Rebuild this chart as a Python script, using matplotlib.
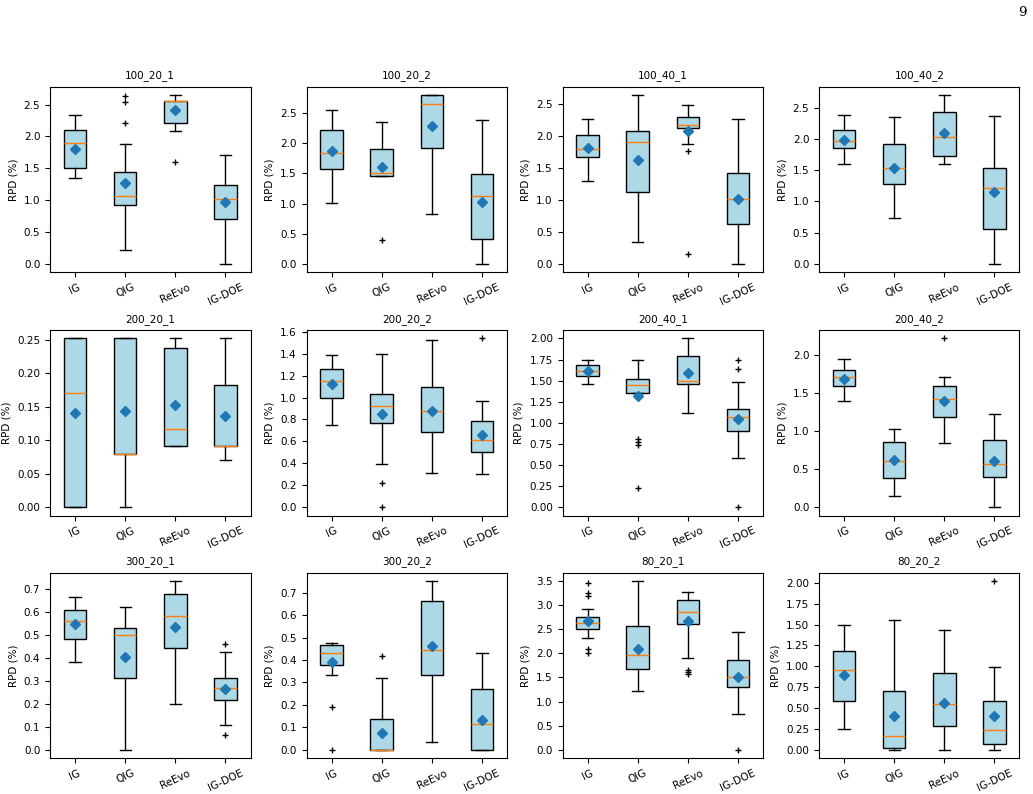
import matplotlib
matplotlib.use("Agg")
import matplotlib.pyplot as plt
from matplotlib.ticker import MaxNLocator

# ---------------- data ----------------
TITLES = ["100_20_1", "100_20_2", "100_40_1", "100_40_2",
          "200_20_1", "200_20_2", "200_40_1", "200_40_2",
          "300_20_1", "300_20_2", "80_20_1", "80_20_2"]
METHODS = ["IG", "QIG", "ReEvo", "IG-DOE"]

WHISLO = [
    [1.35, 0.22, 2.08, 0.00],
    [1.01, 1.45, 0.83, 0.00],
    [1.29, 0.34, 1.87, 0.00],
    [1.60, 0.74, 1.60, 0.00],
    [0.000, 0.000, 0.091, 0.070],
    [0.75, 0.39, 0.31, 0.30],
    [1.46, 1.35, 1.11, 0.58],
    [1.40, 0.14, 0.85, 0.00],
    [0.383, 0.000, 0.199, 0.107],
    [0.333, 0.000, 0.034, 0.000],
    [2.31, 1.23, 1.91, 0.74],
    [0.25, 0.00, 0.00, 0.00],
]
Q1 = [
    [1.50, 0.93, 2.21, 0.71],
    [1.58, 1.45, 1.92, 0.41],
    [1.67, 1.13, 2.12, 0.62],
    [1.85, 1.28, 1.73, 0.56],
    [0.000, 0.080, 0.091, 0.091],
    [1.00, 0.77, 0.69, 0.50],
    [1.55, 1.35, 1.46, 0.90],
    [1.60, 0.38, 1.18, 0.40],
    [0.482, 0.313, 0.440, 0.218],
    [0.378, 0.000, 0.333, 0.000],
    [2.50, 1.67, 2.61, 1.31],
    [0.59, 0.02, 0.29, 0.07],
]
MED = [
    [1.89, 1.06, 2.55, 1.01],
    [1.84, 1.51, 2.66, 1.12],
    [1.79, 1.91, 2.18, 1.01],
    [1.97, 1.53, 2.03, 1.22],
    [0.171, 0.080, 0.116, 0.091],
    [1.15, 0.92, 0.88, 0.61],
    [1.61, 1.45, 1.50, 1.07],
    [1.71, 0.60, 1.42, 0.57],
    [0.557, 0.497, 0.581, 0.270],
    [0.433, 0.000, 0.446, 0.115],
    [2.64, 1.96, 2.85, 1.52],
    [0.95, 0.17, 0.55, 0.24],
]
Q3 = [
    [2.10, 1.44, 2.55, 1.23],
    [2.22, 1.91, 2.80, 1.49],
    [2.01, 2.08, 2.30, 1.42],
    [2.14, 1.91, 2.43, 1.53],
    [0.252, 0.252, 0.237, 0.183],
    [1.26, 1.03, 1.10, 0.79],
    [1.68, 1.52, 1.79, 1.16],
    [1.81, 0.86, 1.59, 0.88],
    [0.607, 0.527, 0.677, 0.312],
    [0.465, 0.137, 0.665, 0.270],
    [2.75, 2.56, 3.10, 1.87],
    [1.18, 0.70, 0.92, 0.58],
]
WHISHI = [
    [2.33, 1.88, 2.65, 1.71],
    [2.56, 2.36, 2.80, 2.38],
    [2.26, 2.64, 2.49, 2.26],
    [2.38, 2.35, 2.70, 2.36],
    [0.252, 0.252, 0.252, 0.252],
    [1.39, 1.40, 1.53, 0.97],
    [1.75, 1.75, 2.00, 1.48],
    [1.95, 1.03, 1.71, 1.23],
    [0.661, 0.618, 0.732, 0.426],
    [0.474, 0.318, 0.752, 0.433],
    [2.93, 3.50, 3.27, 2.44],
    [1.50, 1.55, 1.43, 0.99],
]
MEAN = [
    [1.81, 1.27, 2.41, 0.97],
    [1.88, 1.61, 2.28, 1.02],
    [1.82, 1.63, 2.08, 1.02],
    [1.98, 1.53, 2.09, 1.15],
    [0.140, 0.144, 0.153, 0.136],
    [1.12, 0.85, 0.88, 0.66],
    [1.61, 1.32, 1.59, 1.04],
    [1.69, 0.62, 1.40, 0.60],
    [0.544, 0.404, 0.535, 0.264],
    [0.393, 0.075, 0.462, 0.131],
    [2.67, 2.10, 2.68, 1.51],
    [0.89, 0.40, 0.56, 0.41],
]
FLIERS = [
    [[], [2.21, 2.54, 2.64], [1.60], []],
    [[], [0.40], [], []],
    [[], [], [1.76, 0.15], []],
    [[], [], [], []],
    [[], [], [], []],
    [[], [0.22, 0.0], [], [1.54]],
    [[], [0.81, 0.77, 0.74, 0.23], [], [1.64, 1.75, 0.0]],
    [[], [], [2.22], []],
    [[], [], [], [0.461, 0.065]],
    [[0.19, 0.0], [0.42], [], []],
    [[3.46, 3.26, 3.20, 2.09, 2.01], [], [1.66, 1.61, 1.57], [0.0]],
    [[], [], [], [2.02]],
]

# ---------------- layout ----------------
W, H = 1033, 794
fig = plt.figure(figsize=(W / 100, H / 100), dpi=100)
col_left = [50, 306.5, 562.5, 819]
row_top = [86.7, 330, 572.7]
ax_w, ax_h = 200.5, 185.5
FS = 7.5

for i, title in enumerate(TITLES):
    r, c = divmod(i, 4)
    ax = fig.add_axes([col_left[c] / W, 1 - (row_top[r] + ax_h) / H,
                       ax_w / W, ax_h / H])
    stats = []
    for j, m in enumerate(METHODS):
        stats.append(dict(label=m, whislo=WHISLO[i][j], q1=Q1[i][j],
                          med=MED[i][j], q3=Q3[i][j], whishi=WHISHI[i][j],
                          mean=MEAN[i][j], fliers=FLIERS[i][j]))
    ax.bxp(stats, widths=0.45, patch_artist=True, showmeans=True,
           boxprops=dict(facecolor="lightblue", edgecolor="black", linewidth=1.0),
           medianprops=dict(color="C1", linewidth=1.0),
           meanprops=dict(marker="D", markerfacecolor="C0",
                          markeredgecolor="C0", markersize=5),
           flierprops=dict(marker="+", markeredgecolor="black", markersize=4),
           whiskerprops=dict(color="black", linewidth=1.0),
           capprops=dict(color="black", linewidth=1.0))
    ax.yaxis.set_major_locator(MaxNLocator(nbins=9, steps=[1, 2, 2.5, 5, 10]))
    ax.set_title(title, fontsize=FS)
    ax.set_ylabel("RPD (%)", fontsize=FS)
    ax.tick_params(axis="both", labelsize=FS)
    plt.setp(ax.get_xticklabels(), rotation=25)

fig.text(1022 / W, 1 - 12 / H, "9", fontsize=9.5, family="DejaVu Serif",
         ha="center", va="center")

fig.savefig("out.png", dpi=100)
